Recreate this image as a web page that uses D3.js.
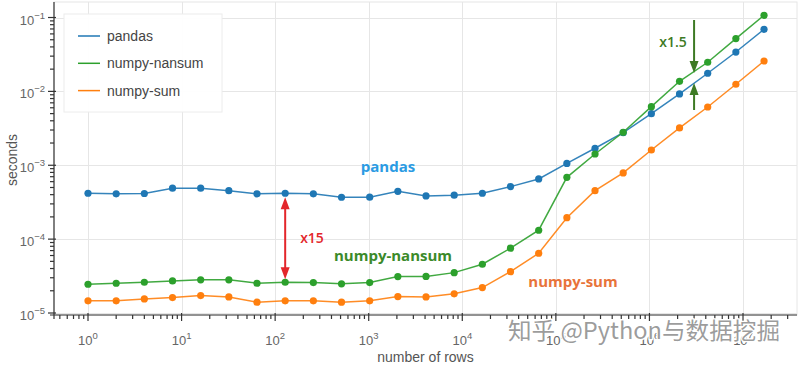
<!DOCTYPE html>
<html><head><meta charset="utf-8">
<script src="https://cdn.jsdelivr.net/npm/d3@7/dist/d3.min.js"></script>
<style>body{margin:0;background:#fff}svg{display:block}</style>
</head><body><svg id="c" width="800" height="367"></svg>
<script>
const rows = [1,2,4,8,16,32,64,128,256,512,1024,2048,4096,8192,16384,32768,65536,131072,262144,524288,1048576,2097152,4194304,8388608,16777216];
const pandasVals = [4.18e-4,4.1e-4,4.15e-4,4.89e-4,4.89e-4,4.53e-4,4.1e-4,4.18e-4,4.1e-4,3.69e-4,3.7e-4,4.44e-4,3.85e-4,3.93e-4,4.18e-4,5.14e-4,6.53e-4,1.06e-3,1.70e-3,2.76e-3,4.99e-3,9.23e-3,1.76e-2,3.41e-2,6.92e-2];
const nansumVals = [2.45e-5,2.53e-5,2.61e-5,2.72e-5,2.81e-5,2.81e-5,2.53e-5,2.61e-5,2.58e-5,2.48e-5,2.58e-5,3.11e-5,3.13e-5,3.52e-5,4.57e-5,7.54e-5,1.32e-4,6.87e-4,1.42e-3,2.8e-3,6.21e-3,1.37e-2,2.48e-2,5.18e-2,1.07e-1];
const sumVals = [1.46e-5,1.46e-5,1.55e-5,1.62e-5,1.72e-5,1.65e-5,1.40e-5,1.46e-5,1.46e-5,1.40e-5,1.46e-5,1.67e-5,1.65e-5,1.82e-5,2.21e-5,3.63e-5,6.44e-5,1.95e-4,4.53e-4,7.87e-4,1.61e-3,3.20e-3,6.15e-3,1.25e-2,2.58e-2];
const seriesNames = ["pandas","numpy-nansum","numpy-sum"];
const xTickExps = [0,1,2,3,4,5,6,7];
const yTickExps = [-1,-2,-3,-4,-5];

const colors = ["#1f77b4","#2ca02c","#ff7f0e"];
const series = [pandasVals, nansumVals, sumVals];

const L=54, R=797, T=2, B=315;
const x = d3.scaleLog().domain([Math.pow(10,-0.3634), Math.pow(10,7.577)]).range([L,R]);
const y = d3.scaleLog().domain([Math.pow(10,-5.027), Math.pow(10,-0.79)]).range([B,T]);

const svg = d3.select("#c");
const font = "'Liberation Sans', Arial, sans-serif";

// outline
svg.append("rect").attr("x",L).attr("y",T).attr("width",R-L).attr("height",B-T)
  .attr("fill","none").attr("stroke","#e6e6e6").attr("stroke-width",1);

// grid
const g = svg.append("g").attr("stroke","#e6e6e6").attr("stroke-width",1);
xTickExps.forEach(e=>{const px=Math.round(x(Math.pow(10,e)))+0.5;
  g.append("line").attr("x1",px).attr("x2",px).attr("y1",T).attr("y2",B);});
yTickExps.forEach(e=>{const py=Math.round(y(Math.pow(10,e)))+0.5;
  g.append("line").attr("x1",L).attr("x2",R).attr("y1",py).attr("y2",py);});

// axes
const ax = svg.append("g").attr("stroke","#333").attr("stroke-width",1.2);
ax.append("line").attr("x1",L-4).attr("x2",R).attr("y1",B).attr("y2",B);
ax.append("line").attr("x1",L).attr("x2",L).attr("y1",T).attr("y2",B+4);
for(let e=-1;e<=7;e++){
  for(let m=1;m<=9;m++){
    const v=m*Math.pow(10,e);
    if(v<x.domain()[0]||v>x.domain()[1]) continue;
    const px=x(v);
    if(m===1) ax.append("line").attr("x1",px).attr("x2",px).attr("y1",B-2).attr("y2",B+6);
    else ax.append("line").attr("x1",px).attr("x2",px).attr("y1",B).attr("y2",B+4);
  }
}
for(let e=-6;e<=-1;e++){
  for(let m=1;m<=9;m++){
    const v=m*Math.pow(10,e);
    if(v<y.domain()[0]||v>y.domain()[1]) continue;
    const py=y(v);
    if(m===1) ax.append("line").attr("x1",L-6).attr("x2",L+2).attr("y1",py).attr("y2",py);
    else ax.append("line").attr("x1",L-4).attr("x2",L).attr("y1",py).attr("y2",py);
  }
}
// tick labels
xTickExps.forEach(e=>{
  const t=svg.append("text").attr("x",x(Math.pow(10,e))).attr("y",345).attr("text-anchor","middle")
    .attr("font-family",font).attr("font-size",13).attr("fill","#666");
  t.append("tspan").text("10");
  t.append("tspan").attr("dy",-6).attr("font-size",9.5).text(String(e));
});
yTickExps.forEach(e=>{
  const t=svg.append("text").attr("x",45).attr("y",y(Math.pow(10,e))+7).attr("text-anchor","end")
    .attr("font-family",font).attr("font-size",13).attr("fill","#666");
  t.append("tspan").text("10");
  t.append("tspan").attr("dy",-6).attr("font-size",9.5).text("\u2212"+String(-e));
});
// axis titles
svg.append("text").attr("x",(L+R)/2).attr("y",362).attr("text-anchor","middle")
  .attr("font-family",font).attr("font-size",14).attr("fill","#555").text("number of rows");
svg.append("text").attr("transform","translate(17,160) rotate(-90)").attr("text-anchor","middle")
  .attr("font-family",font).attr("font-size",14).attr("fill","#555").text("seconds");

// series
const line = d3.line().x((d,i)=>x(rows[i])).y(d=>y(d));
series.forEach((s,k)=>{
  svg.append("path").datum(s).attr("d",line).attr("fill","none").attr("stroke",colors[k]).attr("stroke-width",1.5).attr("opacity",0.9);
});
series.forEach((s,k)=>{
  svg.append("g").selectAll("circle").data(s).join("circle")
    .attr("cx",(d,i)=>x(rows[i])).attr("cy",d=>y(d)).attr("r",3.6).attr("fill",colors[k]);
});

// legend
const lg = svg.append("g");
lg.append("rect").attr("x",64).attr("y",14).attr("width",158).attr("height",98)
  .attr("fill","#fff").attr("fill-opacity",0.95).attr("stroke","#ececec");
seriesNames.forEach((n,k)=>{
  const yy=36+k*27.3;
  lg.append("line").attr("x1",78).attr("x2",100).attr("y1",yy).attr("y2",yy).attr("stroke",colors[k]).attr("stroke-width",1.5);
  lg.append("text").attr("x",107).attr("y",yy+5).attr("font-family",font).attr("font-size",14).attr("fill","#444").text(n);
});

// annotations
const bfont = "'Open Sans', 'Noto Sans', sans-serif";
svg.append("text").attr("x",388).attr("y",172).attr("text-anchor","middle").attr("font-family",bfont)
  .attr("font-weight","bold").attr("font-size",15).attr("fill","#2b9be3").text("pandas");
svg.append("text").attr("x",393).attr("y",261).attr("text-anchor","middle").attr("font-family",bfont)
  .attr("font-weight","bold").attr("font-size",15).attr("fill","#3b8a2a").text("numpy-nansum");
svg.append("text").attr("x",573).attr("y",287).attr("text-anchor","middle").attr("font-family",bfont)
  .attr("font-weight","bold").attr("font-size",15).attr("fill","#e8733a").text("numpy-sum");
svg.append("text").attr("x",312).attr("y",243).attr("text-anchor","middle").attr("font-family",bfont)
  .attr("font-weight",600).attr("font-size",14).attr("fill","#e3262b").text("x15");
svg.append("text").attr("x",673).attr("y",47).attr("text-anchor","middle").attr("font-family",bfont)
  .attr("font-weight",600).attr("font-size",14).attr("fill","#3d7a24").text("x1.5");

function arrowHead(px,py,dir,col){
  svg.append("path").attr("d",`M${px},${py} L${px-4.5},${py-dir*12} L${px+4.5},${py-dir*12} Z`).attr("fill",col);
}
const ax15 = x(rows[7]);
const yTop = y(pandasVals[7])+4, yBot = y(nansumVals[7])-3;
svg.append("line").attr("x1",ax15).attr("x2",ax15).attr("y1",yTop+8).attr("y2",yBot-8).attr("stroke","#e3262b").attr("stroke-width",2);
arrowHead(ax15,yTop,-1,"#e3262b");
arrowHead(ax15,yBot,1,"#e3262b");
const ax2 = x(3e6);
svg.append("line").attr("x1",ax2).attr("x2",ax2).attr("y1",20).attr("y2",64).attr("stroke","#3d7a24").attr("stroke-width",2);
arrowHead(ax2,73,1,"#3d7a24");
svg.append("line").attr("x1",ax2).attr("x2",ax2).attr("y1",92).attr("y2",110).attr("stroke","#3d7a24").attr("stroke-width",2);
arrowHead(ax2,83,-1,"#3d7a24");

// watermark
svg.append("text").attr("x",508).attr("y",339).attr("font-family","'Noto Sans CJK SC', sans-serif")
  .attr("font-size",23).attr("textLength",272).attr("lengthAdjust","spacingAndGlyphs")
  .attr("fill","#8a8a8a").attr("fill-opacity",0.85)
  .attr("stroke","#fff").attr("stroke-width",2.5).attr("paint-order","stroke")
  .text("知乎 @Python与数据挖掘");
</script></body></html>
